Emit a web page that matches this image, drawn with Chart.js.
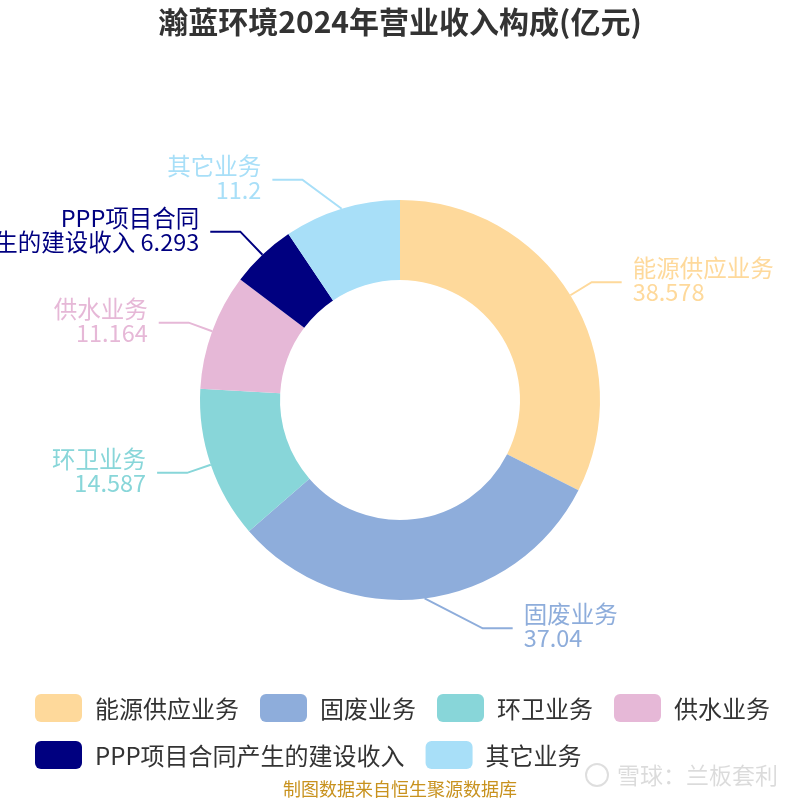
<!DOCTYPE html>
<html>
<head>
<meta charset="utf-8">
<script src="https://cdn.jsdelivr.net/npm/chart.js@4.4.1/dist/chart.umd.min.js"></script>
<style>
    html, body { margin: 0; padding: 0; background: #fff; }
    #wrap { width: 800px; height: 800px; }
</style>
</head>
<body>
<div id="wrap"><canvas id="revenueChart" width="800" height="800"></canvas></div>
<script>
const titleText = "瀚蓝环境2024年营业收入构成(亿元)";
const categories = ["能源供应业务", "固废业务", "环卫业务", "供水业务", "PPP项目合同产生的建设收入", "其它业务"];
const revenue = [38.578, 37.04, 14.587, 11.164, 6.293, 11.2];
const sliceColors = ["#fed99b", "#8eaddb", "#88d6d9", "#e6b8d7", "#000080", "#a8dff8"];
const sourceNote = "制图数据来自恒生聚源数据库";
const watermark = "雪球：兰板套利";

const FONT = '"Noto Sans CJK SC", "Noto Sans", sans-serif';
// small hand nudges of label elbows, where the original layout moved them off the radial line
const labelNudge = {"固废业务": [55, 5], "其它业务": [-32, -5], "PPP项目合同产生的建设收入": [-5, -5]};

function labelLines(name, value) {
    if (name.length > 7) {
        return [name.slice(0, 7), `${name.slice(7)} ${value}`];
    }
    return [name, `${value}`];
}

const decorPlugin = {
    id: "decor",
    afterDraw(chart) {
        const ctx = chart.ctx;
        ctx.save();

        // title
        ctx.fillStyle = "#333";
        ctx.font = `bold 30px ${FONT}`;
        ctx.textAlign = "center";
        ctx.textBaseline = "middle";
        ctx.fillText(titleText, 400, 22);

        // slice labels with leader lines
        const meta = chart.getDatasetMeta(0);
        meta.data.forEach((arc, i) => {
            const mid = (arc.startAngle + arc.endAngle) / 2;
            const cos = Math.cos(mid);
            const sin = Math.sin(mid);
            const x0 = arc.x + cos * arc.outerRadius;
            const y0 = arc.y + sin * arc.outerRadius;
            const nudge = labelNudge[categories[i]] || [0, 0];
            const x1 = arc.x + cos * (arc.outerRadius + 25) + nudge[0];
            const y1 = arc.y + sin * (arc.outerRadius + 25) + nudge[1];
            const right = cos >= 0;
            const x2 = x1 + (right ? 30 : -30);

            ctx.strokeStyle = sliceColors[i];
            ctx.lineWidth = 2;
            ctx.beginPath();
            ctx.moveTo(x0, y0);
            ctx.lineTo(x1, y1);
            ctx.lineTo(x2, y1);
            ctx.stroke();

            const lines = labelLines(categories[i], revenue[i]);
            ctx.fillStyle = sliceColors[i];
            ctx.font = `23.5px ${FONT}`;
            ctx.textAlign = right ? "left" : "right";
            ctx.textBaseline = "middle";
            const tx = x2 + (right ? 11 : -11);
            ctx.fillText(lines[0], tx, y1 - 14);
            ctx.fillText(lines[1], tx, y1 + 10);
        });

        // legend
        ctx.font = `24px ${FONT}`;
        ctx.textAlign = "left";
        ctx.textBaseline = "middle";
        const rows = [[0, 1, 2, 3], [4, 5]];
        rows.forEach((row, r) => {
            let x = 35;
            const cy = 708 + r * 47;
            row.forEach((i) => {
                ctx.fillStyle = sliceColors[i];
                ctx.beginPath();
                ctx.roundRect(x, cy - 14, 47, 28, 6);
                ctx.fill();
                ctx.fillStyle = "#333";
                ctx.fillText(categories[i], x + 60, cy + 1);
                x += 60 + ctx.measureText(categories[i]).width + 21;
            });
        });

        // watermark
        ctx.strokeStyle = "rgba(0,0,0,0.13)";
        ctx.lineWidth = 2;
        ctx.beginPath();
        ctx.arc(597, 775, 11, 0, Math.PI * 2);
        ctx.stroke();
        ctx.fillStyle = "rgba(0,0,0,0.14)";
        ctx.font = `23px ${FONT}`;
        ctx.fillText(watermark, 617, 775);

        // source
        ctx.fillStyle = "#c8921e";
        ctx.font = `18px ${FONT}`;
        ctx.textAlign = "center";
        ctx.fillText(sourceNote, 400, 789);

        ctx.restore();
    }
};

new Chart(document.getElementById("revenueChart"), {
    type: "doughnut",
    data: {
        labels: categories,
        datasets: [{
            data: revenue,
            backgroundColor: sliceColors,
            borderWidth: 0
        }]
    },
    options: {
        responsive: false,
        animation: false,
        cutout: "60%",
        layout: {padding: {top: 200, bottom: 200, left: 200, right: 200}},
        plugins: {
            legend: {display: false},
            title: {display: false},
            tooltip: {enabled: false}
        }
    },
    plugins: [decorPlugin]
});
</script>
</body>
</html>
